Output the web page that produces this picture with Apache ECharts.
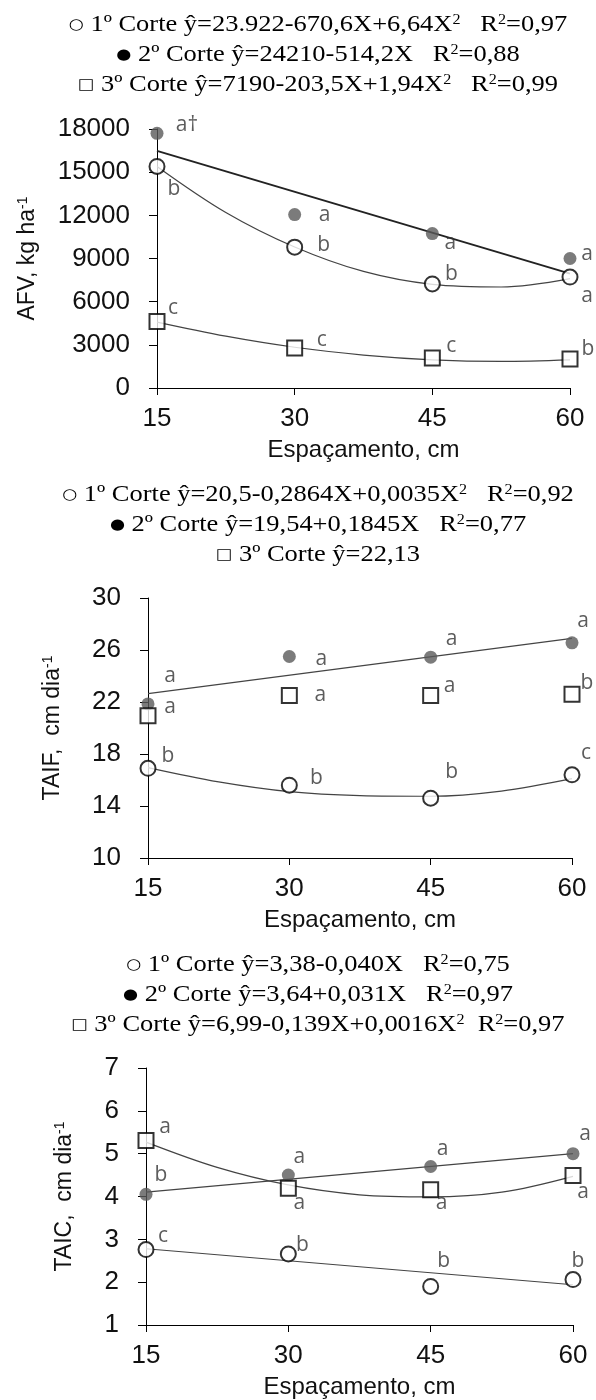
<!DOCTYPE html>
<html><head><meta charset="utf-8">
<script src="https://cdn.jsdelivr.net/npm/echarts@6/dist/echarts.min.js"></script>
<style>html,body{margin:0;padding:0;background:#fff}#c{width:596px;height:1400px}</style>
</head><body><div id="c"></div>
<script>
// ---------------- DATA ----------------
const xValues = [15, 30, 45, 60];
const xTicks = [15, 30, 45, 60];
const fitX = [15, 22.5, 30, 37.5, 45, 52.5, 60];
const lineX = [15, 60];

// Panel 1: AFV, kg ha-1
const afvTicks = [0, 3000, 6000, 9000, 12000, 15000, 18000];
const afvCut1 = [15400, 9790, 7230, 7710];
const afvCut2 = [17700, 12050, 10730, 9000];
const afvCut3 = [4630, 2780, 2085, 2015];
const afvFit1 = [15400, 12200, 9800, 8100, 7200, 7020, 7600];
const afvFit2 = [16480, 7950];
const afvFit3 = [4580, 3600, 2830, 2290, 1960, 1850, 1960];
const afvLetters1 = ['b', 'b', 'b', 'a'];
const afvLetters2 = ['a†', 'a', 'a', 'a'];
const afvLetters3 = ['c', 'c', 'c', 'b'];
const afvTitles = [
  '{sym|○} 1º Corte ŷ=23.922-670,6X+6,64X{s|2}   R{s|2}=0,97',
  '{sym|●} 2º Corte ŷ=24210-514,2X   R{s|2}=0,88',
  '{sym|□} 3º Corte ŷ=7190-203,5X+1,94X{s|2}   R{s|2}=0,99'
];
const afvName = 'AFV, kg ha{s|-1}';

// Panel 2: TAIF, cm dia-1
const taifTicks = [10, 14, 18, 22, 26, 30];
const taifCut1 = [16.9, 15.6, 14.6, 16.4];
const taifCut2 = [21.85, 25.5, 25.45, 26.55];
const taifCut3 = [20.95, 22.5, 22.5, 22.6];
const taifFit1 = [16.95, 15.85, 15.1, 14.8, 14.75, 15.15, 16.1];
const taifFit2 = [22.65, 26.9];
const taifLetters1 = ['b', 'b', 'b', 'c'];
const taifLetters2 = ['a', 'a', 'a', 'a'];
const taifLetters3 = ['a', 'a', 'a', 'b'];
const taifTitles = [
  '{sym|○} 1º Corte ŷ=20,5-0,2864X+0,0035X{s|2}   R{s|2}=0,92',
  '{sym|●} 2º Corte ŷ=19,54+0,1845X   R{s|2}=0,77',
  '{sym|□} 3º Corte ŷ=22,13'
];
const taifName = 'TAIF,  cm dia{s|-1}';

// Panel 3: TAIC, cm dia-1
const taicTicks = [1, 2, 3, 4, 5, 6, 7];
const taicCut1 = [2.76, 2.66, 1.9, 2.06];
const taicCut2 = [4.05, 4.5, 4.7, 5.0];
const taicCut3 = [5.31, 4.19, 4.16, 4.49];
const taicFit1 = [2.78, 1.94];
const taicFit2 = [4.1, 5.0];
const taicFit3 = [5.27, 4.68, 4.27, 4.04, 3.99, 4.1, 4.47];
const taicLetters1 = ['c', 'b', 'b', 'b'];
const taicLetters2 = ['b', 'a', 'a', 'a'];
const taicLetters3 = ['a', 'a', 'a', 'a'];
const taicTitles = [
  '{sym|○} 1º Corte ŷ=3,38-0,040X   R{s|2}=0,75',
  '{sym|●} 2º Corte ŷ=3,64+0,031X   R{s|2}=0,97',
  '{sym|□} 3º Corte ŷ=6,99-0,139X+0,0016X{s|2}  R{s|2}=0,97'
];
const taicName = 'TAIC,  cm dia{s|-1}';

const xName = 'Espaçamento, cm';

// ---------------- LAYOUT / STYLE ----------------
const SERIF = "'Liberation Serif','Times New Roman','DejaVu Serif',serif";
const SANS = "'Liberation Sans',Arial,'DejaVu Sans',sans-serif";
const LETTER = "'Open Sans','Liberation Sans',sans-serif";

const layout = [
  { grid: {left: 157, right: 26, top: 129, height: 259}, titleY: [25, 55, 85], nameGap: 118,
    off1: [[17, 23], [29, -2], [19, -10], [17, 19]],
    off2: [[30, -8], [30, 0], [18, 9], [17, -4]],
    off3: [[16, -13], [27, -8], [19, -12], [18, -10]] },
  { grid: {left: 148, right: 24, top: 598, height: 260}, titleY: [495, 525, 555], nameGap: 84,
    off1: [[20, -12], [27, -7], [21, -26], [14, -22]],
    off2: [[22, -28], [32, 3], [21, -18], [11, -22]],
    off3: [[22, -9], [31, 0], [19, -9], [15, -11]] },
  { grid: {left: 146, right: 23, top: 1068, height: 259}, titleY: [965, 995, 1025], nameGap: 70,
    off1: [[17, -14], [14, -9], [13, -25], [5, -19]],
    off2: [[15, -19], [11, -18], [12, -18], [12, -20]],
    off3: [[19, -13], [11, 15], [11, 13], [10, 17]] }
];

const panels = [
  { ticks: afvTicks, min: 0, max: 18000, name: afvName, titles: afvTitles,
    cut1: afvCut1, cut2: afvCut2, cut3: afvCut3, l1: afvLetters1, l2: afvLetters2, l3: afvLetters3,
    fit1: {x: fitX, y: afvFit1}, fit2: {x: lineX, y: afvFit2, w: 2, c: '#222'}, fit3: {x: fitX, y: afvFit3} },
  { ticks: taifTicks, min: 10, max: 30, name: taifName, titles: taifTitles,
    cut1: taifCut1, cut2: taifCut2, cut3: taifCut3, l1: taifLetters1, l2: taifLetters2, l3: taifLetters3,
    fit1: {x: fitX, y: taifFit1}, fit2: {x: lineX, y: taifFit2, w: 1.2, c: '#444'}, fit3: null },
  { ticks: taicTicks, min: 1, max: 7, name: taicName, titles: taicTitles,
    cut1: taicCut1, cut2: taicCut2, cut3: taicCut3, l1: taicLetters1, l2: taicLetters2, l3: taicLetters3,
    fit1: {x: lineX, y: taicFit1}, fit2: {x: lineX, y: taicFit2, w: 1.2, c: '#444'}, fit3: {x: fitX, y: taicFit3} }
];

const grids = [], xAxes = [], yAxes = [], series = [], graphics = [];

function fitSeries(i, f, width, color) {
  return {
    type: 'line', xAxisIndex: i, yAxisIndex: i, silent: true, z: 2,
    data: f.x.map((x, k) => [x, f.y[k]]), symbol: 'none', showSymbol: false,
    smooth: f.x.length > 2 ? 0.35 : false,
    lineStyle: {width: width, color: color}
  };
}

function pointSeries(i, ys, letters, offs, kind) {
  const open = kind !== 'filled';
  return {
    type: 'scatter', xAxisIndex: i, yAxisIndex: i, silent: true, z: 5, clip: false,
    symbol: kind === 'square' ? 'rect' : 'circle',
    symbolSize: kind === 'filled' ? 13 : 15,
    itemStyle: open ? {color: '#fff', borderColor: '#000', borderWidth: 2} : {color: '#5a5a5a'},
    label: {show: true, position: 'inside', formatter: p => letters[p.dataIndex],
      fontSize: 21, fontFamily: LETTER, color: '#333'},
    data: xValues.map((x, k) => ({value: [x, ys[k]], label: {offset: offs[k]}}))
  };
}

panels.forEach((p, i) => {
  const L = layout[i];
  grids.push(L.grid);
  xAxes.push({
    gridIndex: i, type: 'value', min: 15, max: 60, interval: 15,
    axisLine: {show: true, onZero: false, lineStyle: {color: '#000', width: 1}},
    axisTick: {show: true, length: 7, lineStyle: {color: '#000'}, customValues: xTicks},
    axisLabel: {fontSize: 26, fontFamily: SANS, color: '#111', margin: 18, customValues: xTicks,
      formatter: v => String(v)},
    splitLine: {show: false},
    name: xName, nameLocation: 'middle', nameGap: 50,
    nameTextStyle: {fontSize: 24, fontFamily: SANS, color: '#111'}
  });
  yAxes.push({
    gridIndex: i, type: 'value', min: p.min, max: p.max,
    axisLine: {show: true, lineStyle: {color: '#000', width: 1}},
    axisTick: {show: true, length: 8, lineStyle: {color: '#000'}, customValues: p.ticks},
    axisLabel: {fontSize: 26, fontFamily: SANS, color: '#111', margin: 27, customValues: p.ticks,
      formatter: v => String(v)},
    splitLine: {show: false},
    name: p.name, nameLocation: 'middle', nameGap: L.nameGap,
    nameTextStyle: {fontSize: 23, fontFamily: SANS, color: '#111',
      rich: {s: {fontSize: 14, fontFamily: SANS, color: '#111', verticalAlign: 'top'}}}
  });
  series.push(fitSeries(i, p.fit1, 1.2, '#444'));
  series.push(fitSeries(i, p.fit2, p.fit2.w, p.fit2.c));
  if (p.fit3) series.push(fitSeries(i, p.fit3, 1.2, '#444'));
  series.push(pointSeries(i, p.cut2, p.l2, L.off2, 'filled'));
  series.push(pointSeries(i, p.cut1, p.l1, L.off1, 'open'));
  series.push(pointSeries(i, p.cut3, p.l3, L.off3, 'square'));
  p.titles.forEach((t, k) => {
    graphics.push({
      type: 'text', x: 318, y: L.titleY[k], scaleX: 1.15, silent: true,
      style: {
        text: t, fontSize: 23, fontFamily: SERIF, fill: '#000',
        align: 'center', verticalAlign: 'middle', textAlign: 'center', textVerticalAlign: 'middle',
        rich: {
          s: {fontSize: 14, fontFamily: SERIF, fill: '#000', verticalAlign: 'top'},
          sym: {fontSize: 15, fontFamily: "'DejaVu Sans',sans-serif", fill: '#000'}
        }
      }
    });
  });
});

const chart = echarts.init(document.getElementById('c'), null, {renderer: 'canvas'});
chart.setOption({
  animation: false,
  backgroundColor: '#fff',
  grid: grids, xAxis: xAxes, yAxis: yAxes, series: series, graphic: graphics
});
</script>
</body></html>
